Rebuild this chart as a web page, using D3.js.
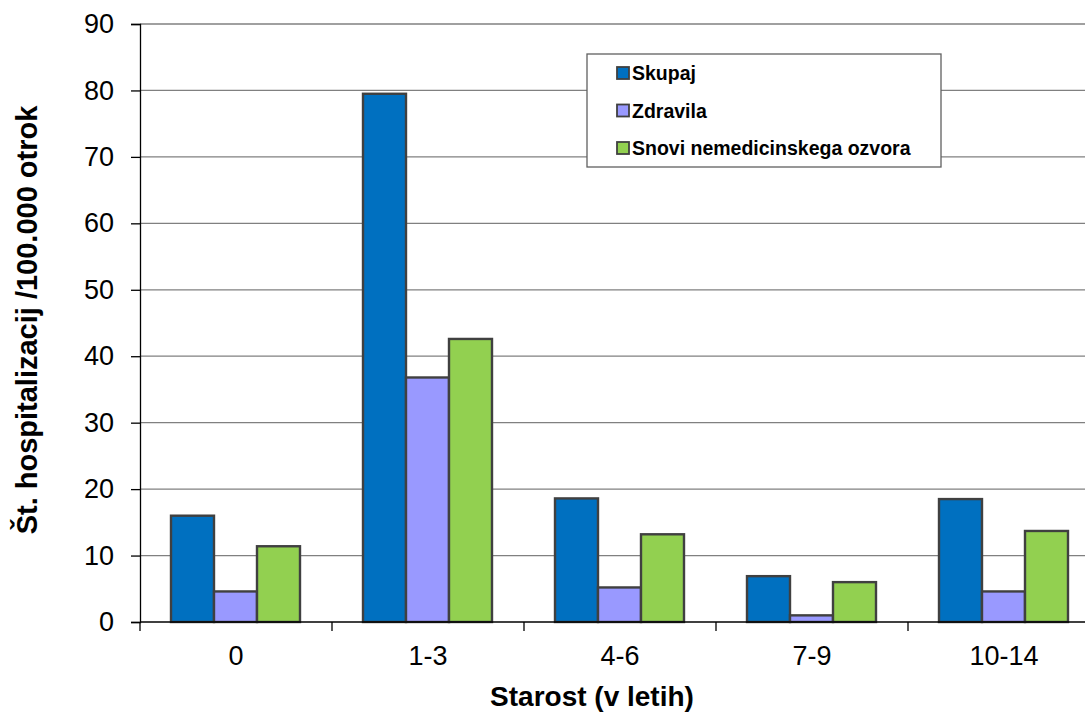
<!DOCTYPE html>
<html>
<head>
<meta charset="utf-8">
<script src="https://cdn.jsdelivr.net/npm/d3@7"></script>
<style>
  body { margin: 0; background: #fff; }
  svg { display: block; font-family: "Liberation Sans", Arial, sans-serif; }
</style>
</head>
<body>
<div id="chart"></div>
<script>
// Podatki
const categories = ['0', '1-3', '4-6', '7-9', '10-14'];
const seriesNames = ['Skupaj', 'Zdravila', 'Snovi nemedicinskega ozvora'];
const skupaj = [16.0, 79.5, 18.6, 6.9, 18.5];
const zdravila = [4.6, 36.8, 5.2, 1.0, 4.6];
const snovi = [11.4, 42.6, 13.2, 6.0, 13.7];
const yTicks = [0, 10, 20, 30, 40, 50, 60, 70, 80, 90];
const colors = ['#0070C0', '#9999FF', '#92D050'];

const width = 1085, height = 714;
const margin = { left: 140, top: 24, bottom: 92 };
const plotRight = 1100; // plot runs past the window edge
const innerH = height - margin.top - margin.bottom;

const svg = d3.select('#chart').append('svg')
    .attr('width', width)
    .attr('height', height);

const x0 = d3.scaleBand()
    .domain(categories)
    .range([margin.left, plotRight])
    .paddingInner(0)
    .paddingOuter(0);

const x1 = d3.scaleBand()
    .domain(seriesNames)
    .range([31, x0.bandwidth() - 32]);

const y = d3.scaleLinear()
    .domain([0, 90])
    .range([margin.top + innerH, margin.top]);

// Mreža
svg.append('g')
    .selectAll('line')
    .data(yTicks.slice(1))
    .enter().append('line')
    .attr('x1', margin.left)
    .attr('x2', plotRight)
    .attr('y1', d => y(d))
    .attr('y2', d => y(d))
    .attr('stroke', '#808080')
    .attr('stroke-width', 1.3);

// Stolpci
const values = [skupaj, zdravila, snovi];
const groups = svg.append('g')
    .selectAll('g')
    .data(categories)
    .enter().append('g')
    .attr('transform', d => `translate(${x0(d)},0)`);

groups.selectAll('rect')
    .data((d, i) => seriesNames.map((s, j) => ({ s, v: values[j][i], c: colors[j] })))
    .enter().append('rect')
    .attr('x', d => x1(d.s))
    .attr('width', x1.bandwidth())
    .attr('y', d => y(d.v))
    .attr('height', d => y(0) - y(d.v))
    .attr('fill', d => d.c)
    .attr('stroke', '#404040')
    .attr('stroke-width', 2.4);

// Osi
const yAxis = svg.append('g')
    .attr('transform', `translate(${margin.left},0)`)
    .call(d3.axisLeft(y).tickValues(yTicks).tickSize(9).tickPadding(17));
yAxis.select('.domain').attr('stroke', '#000').attr('stroke-width', 1.3);
yAxis.selectAll('.tick line').attr('stroke', '#000').attr('stroke-width', 1.3);
yAxis.selectAll('text').attr('font-size', 27).attr('fill', '#000')
    .attr('font-family', '"Liberation Sans", Arial, sans-serif');

const xAxisG = svg.append('g')
    .attr('transform', `translate(0,${y(0)})`);
xAxisG.append('line')
    .attr('x1', margin.left).attr('x2', plotRight)
    .attr('stroke', '#000').attr('stroke-width', 1.3);
xAxisG.selectAll('line.tk')
    .data(categories.concat(['end']))
    .enter().append('line')
    .attr('class', 'tk')
    .attr('x1', (d, i) => margin.left + i * x0.bandwidth())
    .attr('x2', (d, i) => margin.left + i * x0.bandwidth())
    .attr('y1', 0).attr('y2', 9)
    .attr('stroke', '#000').attr('stroke-width', 1.3);
xAxisG.selectAll('text')
    .data(categories)
    .enter().append('text')
    .attr('x', d => x0(d) + x0.bandwidth() / 2)
    .attr('y', 43)
    .attr('text-anchor', 'middle')
    .attr('font-size', 27)
    .text(d => d);

// Naslovi osi
svg.append('text')
    .attr('x', 592)
    .attr('y', 706)
    .attr('text-anchor', 'middle')
    .attr('font-size', 28)
    .attr('font-weight', 'bold')
    .text('Starost (v letih)');

svg.append('text')
    .attr('transform', `translate(37,320) rotate(-90)`)
    .attr('text-anchor', 'middle')
    .attr('font-size', 29)
    .attr('font-weight', 'bold')
    .text('Št. hospitalizacij /100.000 otrok');

// Legenda
const legend = svg.append('g');
legend.append('rect')
    .attr('x', 587).attr('y', 54)
    .attr('width', 354).attr('height', 113)
    .attr('fill', '#fff')
    .attr('stroke', '#606060')
    .attr('stroke-width', 1.3);

const items = legend.selectAll('g')
    .data(seriesNames)
    .enter().append('g')
    .attr('transform', (d, i) => `translate(617,${73 + i * 37.5})`);
items.append('rect')
    .attr('x', 0).attr('y', -6)
    .attr('width', 12).attr('height', 12)
    .attr('fill', (d, i) => colors[i])
    .attr('stroke', '#404040')
    .attr('stroke-width', 1.8);
items.append('text')
    .attr('x', 15)
    .attr('y', 7)
    .attr('font-size', 19.5)
    .attr('font-weight', 'bold')
    .text(d => d);
</script>
</body>
</html>
